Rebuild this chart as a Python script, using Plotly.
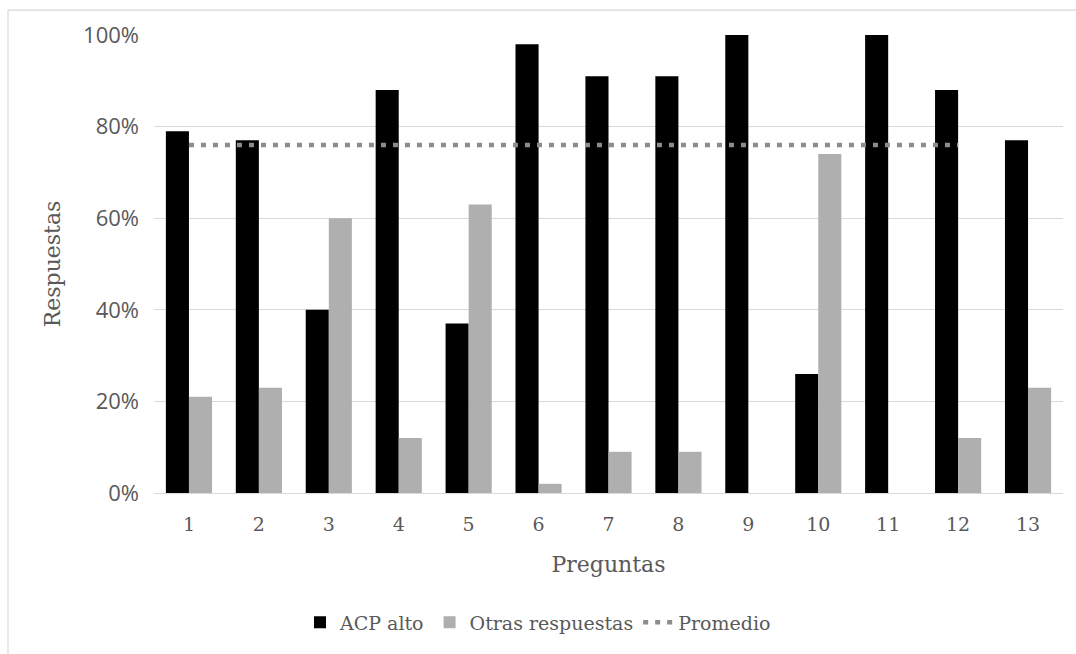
import plotly.graph_objects as go

# Question numbers on the category axis
preguntas = [1, 2, 3, 4, 5, 6, 7, 8, 9, 10, 11, 12, 13]
tick_labels = [str(p) for p in preguntas]

# Share of answers per question (fractions of 1)
acp_alto = [0.79, 0.77, 0.40, 0.88, 0.37, 0.98, 0.91, 0.91, 1.00, 0.26, 1.00, 0.88, 0.77]
otras_respuestas = [0.21, 0.23, 0.60, 0.12, 0.63, 0.02, 0.09, 0.09, 0.00, 0.74, 0.00, 0.12, 0.23]

# Average reference line, drawn across questions 1-12
promedio_x = [1, 2, 3, 4, 5, 6, 7, 8, 9, 10, 11, 12]
promedio = [0.76] * 12

y_ticks = [0, 0.2, 0.4, 0.6, 0.8, 1.0]
y_tick_labels = ["0%", "20%", "40%", "60%", "80%", "100%"]

SERIF = "DejaVu Serif"
SANS = "Open Sans"
TEXT = "#595959"
GRID = "#d9d9d9"

fig = go.Figure()
fig.add_trace(go.Bar(
    x=preguntas, y=acp_alto, name="ACP alto",
    marker=dict(color="#000000", line=dict(width=0)),
))
fig.add_trace(go.Bar(
    x=preguntas, y=otras_respuestas, name="Otras respuestas",
    marker=dict(color="#afafaf", line=dict(width=0)),
))
fig.add_trace(go.Scatter(
    x=promedio_x, y=promedio, name="Promedio", mode="lines",
    line=dict(color="#8c8c8c", width=4.5, dash="5px,7px"),
))

# plot area: x 154..1063, y 35..495 (px)
L, R, T, B = 154, 13, 35, 159
W, H = 1076 - L - R, 654 - T - B

fig.update_layout(
    width=1076, height=654,
    margin=dict(l=L, r=R, t=T, b=B),
    paper_bgcolor="white", plot_bgcolor="white",
    barmode="group", bargap=0.34, bargroupgap=0.0,
    showlegend=True,
    legend=dict(
        orientation="h", x=(300 - L) / W, xanchor="left",
        y=(495 - 606) / H, yanchor="top",
        font=dict(family=SERIF, size=19, color=TEXT),
        itemwidth=30, traceorder="normal",
    ),
    xaxis=dict(
        tickmode="array", tickvals=preguntas, ticktext=tick_labels,
        range=[0.5, 13.5], showgrid=False, zeroline=False,
        showline=False, ticks="", ticklabelstandoff=18,
        tickfont=dict(family=SERIF, size=19, color=TEXT),
        title=dict(text="Preguntas", font=dict(family=SERIF, size=22, color=TEXT),
                   standoff=22),
    ),
    yaxis=dict(
        tickmode="array", tickvals=y_ticks, ticktext=y_tick_labels,
        range=[0, 1.0], showgrid=True, gridcolor=GRID, gridwidth=1,
        zeroline=True, zerolinecolor=GRID, zerolinewidth=1,
        showline=False, ticks="", ticklabelstandoff=14,
        tickfont=dict(family=SANS, size=22, color=TEXT),
        title=dict(text="Respuestas", font=dict(family=SERIF, size=22, color=TEXT),
                   standoff=16),
    ),
    shapes=[dict(
        type="rect", xref="paper", yref="paper", layer="below",
        x0=(8 - L) / W, x1=(1090 - L) / W,
        y0=(495 - 670) / H, y1=1 + (T - 10) / H,
        line=dict(color=GRID, width=1.2), fillcolor="rgba(0,0,0,0)",
    )],
)

fig.write_html("out.html")
